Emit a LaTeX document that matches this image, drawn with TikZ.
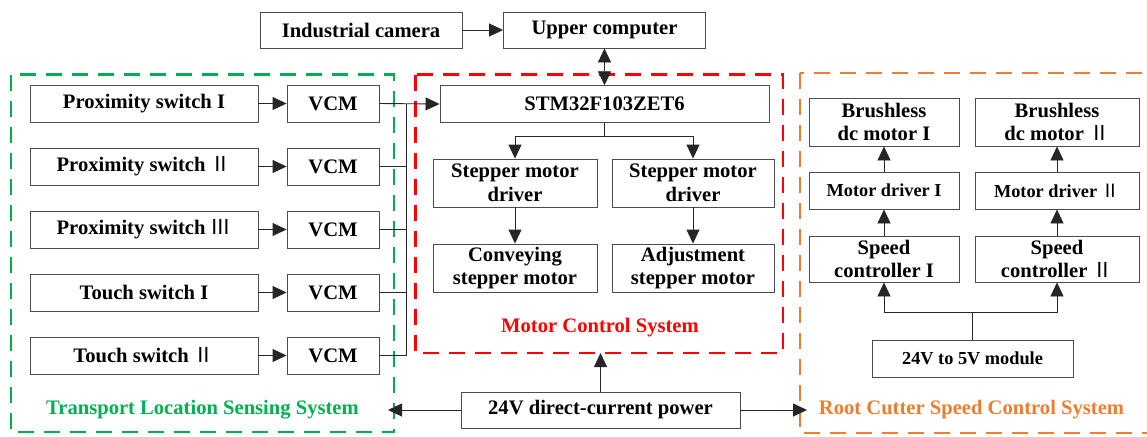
\documentclass[tikz,border=0pt]{standalone}
\usepackage{fontspec}
\setmainfont{Liberation Serif}
\newfontfamily\cjkfont{Noto Sans CJK SC}
\usetikzlibrary{arrows.meta}
\newcommand{\RomII}{{\cjkfont\mdseries Ⅱ}}
\newcommand{\RomIII}{{\cjkfont\mdseries Ⅲ}}
\begin{document}
\begin{tikzpicture}[x=1pt,y=-1pt,
  box/.style={draw=black!70, line width=0.9pt, fill=white, minimum height=37, inner sep=0pt, align=center,
    font=\bfseries\fontsize{20.6}{23.5}\selectfont},
  sbox/.style={box, font=\bfseries\fontsize{18.3}{21}\selectfont},
  conn/.style={draw=black!85, line width=0.9pt},
  arr/.style={conn, -{Triangle[length=14pt,width=13pt]}},
  darr/.style={conn, {Triangle[length=14pt,width=13pt]}-{Triangle[length=14pt,width=13pt]}},
  frame/.style={line width=2.6pt, dash pattern=on 16pt off 10pt},
  lab/.style={font=\bfseries\fontsize{20.6}{23.5}\selectfont, inner sep=0pt}
]
\definecolor{grn}{RGB}{0,176,80}
\definecolor{orng}{RGB}{237,125,49}
\clip (0,0) rectangle (1147,436);
\fill[white] (0,0) rectangle (1147,436);

% system frames
\draw[frame, draw=grn] (11,74.5) rectangle (394,432);
\draw[frame, draw=red] (415.7,74.5) rectangle (783,353);
\draw[frame, draw=orng] (800,73) rectangle (1170,433);

% top
\node[box, minimum width=202, minimum height=36] (cam) at (361,30) {Industrial camera};
\node[box, minimum width=202, minimum height=36] (upc) at (604.5,30) {Upper computer};
\draw[arr] (cam) -- (upc);

% STM
\node[box, minimum width=329, minimum height=36.6] (stm) at (604.5,104) {STM32F103ZET6};
\draw[darr] (upc.south) -- (stm.north);

% left column
\node[box, minimum width=228] (s1) at (144,103.5) {Proximity switch I};
\node[box, minimum width=228] (s2) at (144,166.5) {Proximity switch \RomII};
\node[box, minimum width=228] (s3) at (144,229.5) {Proximity switch \RomIII};
\node[box, minimum width=228] (s4) at (144,292.5) {Touch switch I};
\node[box, minimum width=228] (s5) at (144,355.5) {Touch switch \RomII};
\foreach \i/\yy in {1/103.5,2/166.5,3/229.5,4/292.5,5/355.5}{
  \node[box, minimum width=92] (v\i) at (333,\yy) {VCM};
  \draw[arr] (s\i) -- (v\i);
  \coordinate (b\i) at (406.7,\yy);
}
\draw[conn] (b1) -- (b5);
\foreach \i in {2,3,4,5}{ \draw[conn] (v\i.east) -- (b\i); }
\draw[arr] (v1.east) -- (stm.west);

% motor control
\node[box, minimum width=164, minimum height=48] (dl) at (515,183) {Stepper motor\\driver};
\node[box, minimum width=162, minimum height=48] (dr) at (693,183) {Stepper motor\\driver};
\node[box, minimum width=164, minimum height=48] (cv) at (515,268) {Conveying\\stepper motor};
\node[box, minimum width=162, minimum height=48] (ad) at (693,268) {Adjustment\\stepper motor};
\coordinate (sj) at (604.5,136);
\draw[conn] (stm.south) -- (sj);
\draw[arr] (sj) -| (dl.north);
\draw[arr] (sj) -| (dr.north);
\draw[arr] (dl) -- (cv);
\draw[arr] (dr) -- (ad);

% right side
\node[box, minimum width=150, minimum height=48] (bl1) at (884,122) {Brushless\\dc motor I};
\node[box, minimum width=164, minimum height=48] (bl2) at (1057,122) {Brushless\\dc motor \RomII};
\node[sbox, minimum width=150] (md1) at (884,190.5) {Motor driver I};
\node[sbox, minimum width=164] (md2) at (1057,190.5) {Motor driver \RomII};
\node[box, minimum width=150, minimum height=46] (sc1) at (884,259) {Speed\\controller I};
\node[box, minimum width=164, minimum height=46] (sc2) at (1057,259) {Speed\\controller \RomII};
\node[sbox, minimum width=201] (mod) at (972.5,358.5) {24V to 5V module};
\draw[arr] (md1) -- (bl1);
\draw[arr] (md2) -- (bl2);
\draw[arr] (sc1) -- (md1);
\draw[arr] (sc2) -- (md2);
\coordinate (mj) at (972.5,312);
\draw[conn] (mod.north) -- (mj);
\draw[arr] (mj) -| (sc1.south);
\draw[arr] (mj) -| (sc2.south);

% power
\node[box, minimum width=279, minimum height=36] (pwr) at (600.5,410) {24V direct-current power};
\coordinate (pl) at (388,410);
\coordinate (pr) at (807,410);
\coordinate (pu) at (600.5,353);
\draw[arr] (pwr.west) -- (pl);
\draw[arr] (pwr.east) -- (pr);
\draw[arr] (pwr.north) -- (pu);

% labels
\node[lab, text=grn] (lg) at (202.5,410) {Transport Location Sensing System};
\node[lab, text=red] (lr) at (600,328) {Motor Control System};
\node[lab, text=orng] (lo) at (971.5,410) {Root Cutter Speed Control System};
\end{tikzpicture}
\end{document}
